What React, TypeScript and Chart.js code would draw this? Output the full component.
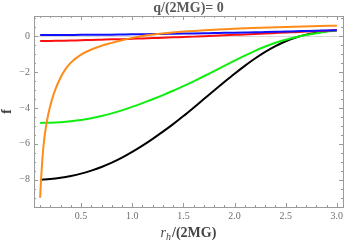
import React, { useEffect, useRef } from "react";
import { Chart, registerables } from "chart.js";

Chart.register(...registerables);

// ---- data ----
const rhGrid = [0.1, 0.2, 0.3, 0.4, 0.5, 0.6, 0.7, 0.8, 0.9, 1.0, 1.1, 1.2, 1.3, 1.4, 1.5, 1.6, 1.7, 1.8, 1.9, 2.0, 2.1, 2.2, 2.3, 2.4, 2.5, 2.6, 2.7, 2.8, 2.9, 3.0];
const fBlack = [-8.0, -7.96, -7.89, -7.79, -7.66, -7.49, -7.29, -7.05, -6.77, -6.45, -6.1, -5.72, -5.32, -4.9, -4.45, -3.98, -3.5, -3.02, -2.55, -2.09, -1.65, -1.24, -0.87, -0.55, -0.28, -0.07, 0.09, 0.2, 0.28, 0.33];
const fGreen = [-4.83, -4.82, -4.79, -4.74, -4.67, -4.57, -4.45, -4.3, -4.13, -3.94, -3.73, -3.51, -3.28, -3.04, -2.78, -2.51, -2.23, -1.94, -1.65, -1.36, -1.08, -0.81, -0.57, -0.36, -0.19, -0.05, 0.07, 0.17, 0.26, 0.33];
const fRed = [-0.27, -0.26, -0.25, -0.24, -0.22, -0.21, -0.19, -0.17, -0.16, -0.14, -0.12, -0.1, -0.08, -0.06, -0.04, -0.02, 0.0, 0.03, 0.05, 0.08, 0.1, 0.13, 0.15, 0.18, 0.21, 0.23, 0.26, 0.29, 0.31, 0.34];
const fBlue = [0.07, 0.07, 0.07, 0.075, 0.08, 0.08, 0.085, 0.09, 0.1, 0.11, 0.115, 0.12, 0.13, 0.14, 0.15, 0.16, 0.17, 0.18, 0.19, 0.2, 0.21, 0.22, 0.235, 0.25, 0.265, 0.28, 0.295, 0.31, 0.325, 0.34];
const rhOrange = [0.1, 0.105, 0.11, 0.12, 0.13, 0.14, 0.15, 0.16, 0.17, 0.18, 0.2, 0.22, 0.25, 0.3, 0.35, 0.4, 0.5, 0.6, 0.7, 0.8, 0.9, 1.0, 1.1, 1.25, 1.5, 1.75, 2.0, 2.25, 2.5, 2.75, 3.0];
const fOrange = [-9.0, -8.4, -7.9, -7.0, -6.3, -5.75, -5.3, -4.95, -4.62, -4.33, -3.86, -3.45, -2.95, -2.3, -1.82, -1.47, -1.02, -0.74, -0.53, -0.37, -0.22, -0.09, 0.02, 0.13, 0.26, 0.35, 0.42, 0.47, 0.52, 0.56, 0.59];

const xTickValues = [0.5, 1.0, 1.5, 2.0, 2.5, 3.0];
const xTickLabels = ["0.5", "1.0", "1.5", "2.0", "2.5", "3.0"];
const yTickValues = [-8, -6, -4, -2, 0];
const yTickLabels = ["\u22128", "\u22126", "\u22124", "\u22122", "0"];
const xMinorStep = 0.1;
const yMinorStep = 0.5;

const titleText = "q/(2MG)= 0";
const yTitle = "f";

const X_MIN = 0.04;
const X_MAX = 3.06;
const Y_MIN = -9.52;
const Y_MAX = 1.13;

const SERIF = '"Liberation Serif", "DejaVu Serif", serif';

const framePlugin = {
  id: "mmaFrame",
  beforeDatasetsDraw(chart: any) {
    const { ctx, chartArea, scales } = chart;
    const y0 = scales.y.getPixelForValue(0);
    ctx.save();
    ctx.strokeStyle = "#d8d8d8";
    ctx.lineWidth = 1;
    ctx.beginPath();
    ctx.moveTo(chartArea.left, Math.round(y0) + 0.5);
    ctx.lineTo(chartArea.right, Math.round(y0) + 0.5);
    ctx.stroke();
    ctx.restore();
  },
  afterDraw(chart: any) {
    const { ctx, chartArea, scales } = chart;
    const { left, right, top, bottom } = chartArea;
    const xs = scales.x;
    const ys = scales.y;
    ctx.save();
    ctx.strokeStyle = "#9a9a9a";
    ctx.lineWidth = 1;
    ctx.strokeRect(Math.round(left) + 0.5, Math.round(top) + 0.5, Math.round(right - left), Math.round(bottom - top));

    // x ticks
    ctx.beginPath();
    const nx = Math.round((3.0 - 0.1) / xMinorStep);
    for (let i = 0; i <= nx; i++) {
      const v = 0.1 + i * xMinorStep;
      const major = xTickValues.some((t) => Math.abs(t - v) < 1e-6);
      const len = major ? 4 : 2;
      const px = Math.round(xs.getPixelForValue(v)) + 0.5;
      ctx.moveTo(px, bottom);
      ctx.lineTo(px, bottom - len);
      ctx.moveTo(px, top);
      ctx.lineTo(px, top + len);
    }
    // y ticks
    const ny = Math.round((1.0 - -9.5) / yMinorStep);
    for (let i = 0; i <= ny; i++) {
      const v = -9.5 + i * yMinorStep;
      const major = yTickValues.some((t) => Math.abs(t - v) < 1e-6);
      const len = major ? 4 : 2;
      const py = Math.round(ys.getPixelForValue(v)) + 0.5;
      ctx.moveTo(left, py);
      ctx.lineTo(left + len, py);
      ctx.moveTo(right, py);
      ctx.lineTo(right - len, py);
    }
    ctx.stroke();

    // tick labels
    ctx.fillStyle = "#6e6e6e";
    ctx.font = `10px ${SERIF}`;
    ctx.textAlign = "center";
    ctx.textBaseline = "middle";
    xTickValues.forEach((v, i) => {
      ctx.fillText(xTickLabels[i], xs.getPixelForValue(v), bottom + 9);
    });
    ctx.textAlign = "right";
    yTickValues.forEach((v, i) => {
      ctx.fillText(yTickLabels[i], left - 4, ys.getPixelForValue(v));
    });

    // title
    const cx = (left + right) / 2;
    ctx.fillStyle = "#5a5a5a";
    ctx.font = `bold 14px ${SERIF}`;
    ctx.textAlign = "center";
    ctx.textBaseline = "alphabetic";
    ctx.fillText(titleText, cx, 11.5);

    // y axis title
    ctx.save();
    ctx.translate(11, (top + bottom) / 2);
    ctx.rotate(-Math.PI / 2);
    ctx.font = `bold 14px ${SERIF}`;
    ctx.fillStyle = "#444";
    ctx.textAlign = "center";
    ctx.fillText(yTitle, 0, 0);
    ctx.restore();

    // x axis title: r_h/(2MG)
    ctx.fillStyle = "#444";
    ctx.textAlign = "left";
    const fR = `italic 14px ${SERIF}`;
    const fH = `italic 10px ${SERIF}`;
    const fRest = `bold 14px ${SERIF}`;
    ctx.font = fR;
    const wR = ctx.measureText("r").width;
    ctx.font = fH;
    const wH = ctx.measureText("h").width;
    ctx.font = fRest;
    const wRest = ctx.measureText("/(2MG)").width;
    const total = wR + wH + 1 + wRest;
    let x = cx - total / 2;
    const base = 236.5;
    ctx.font = fR;
    ctx.fillText("r", x, base);
    x += wR;
    ctx.font = fH;
    ctx.fillText("h", x, base + 3);
    x += wH + 1;
    ctx.font = fRest;
    ctx.fillText("/(2MG)", x, base);
    ctx.restore();
  },
};

function pts(xs: number[], ys: number[]) {
  return xs.map((x, i) => ({ x, y: ys[i] }));
}

export default function App() {
  const ref = useRef<HTMLCanvasElement | null>(null);
  useEffect(() => {
    document.body.style.margin = "0";
    const canvas = ref.current;
    if (!canvas) return;
    const common = {
      borderWidth: 2,
      pointRadius: 0,
      fill: false,
      cubicInterpolationMode: "monotone" as const,
    };
    const chart = new Chart(canvas, {
      type: "line",
      data: {
        datasets: [
          { ...common, label: "orange", data: pts(rhOrange, fOrange), borderColor: "#ff8c1a" },
          { ...common, label: "blue", data: pts(rhGrid, fBlue), borderColor: "#1010ff" },
          { ...common, label: "red", data: pts(rhGrid, fRed), borderColor: "#ff1010" },
          { ...common, label: "green", data: pts(rhGrid, fGreen), borderColor: "#10ee10" },
          { ...common, label: "black", data: pts(rhGrid, fBlack), borderColor: "#000000" },
        ],
      },
      options: {
        animation: false,
        responsive: false,
        maintainAspectRatio: false,
        layout: { padding: { left: 34, right: 11, top: 16, bottom: 38 } },
        plugins: { legend: { display: false }, tooltip: { enabled: false }, title: { display: false } },
        scales: {
          x: { type: "linear", min: X_MIN, max: X_MAX, display: false },
          y: { type: "linear", min: Y_MIN, max: Y_MAX, display: false },
        },
      },
      plugins: [framePlugin],
    });
    return () => chart.destroy();
  }, []);
  return (
    <div style={{ width: 354, height: 245, position: "relative" }}>
      <canvas ref={ref} width={354} height={245} style={{ display: "block" }} />
    </div>
  );
}
